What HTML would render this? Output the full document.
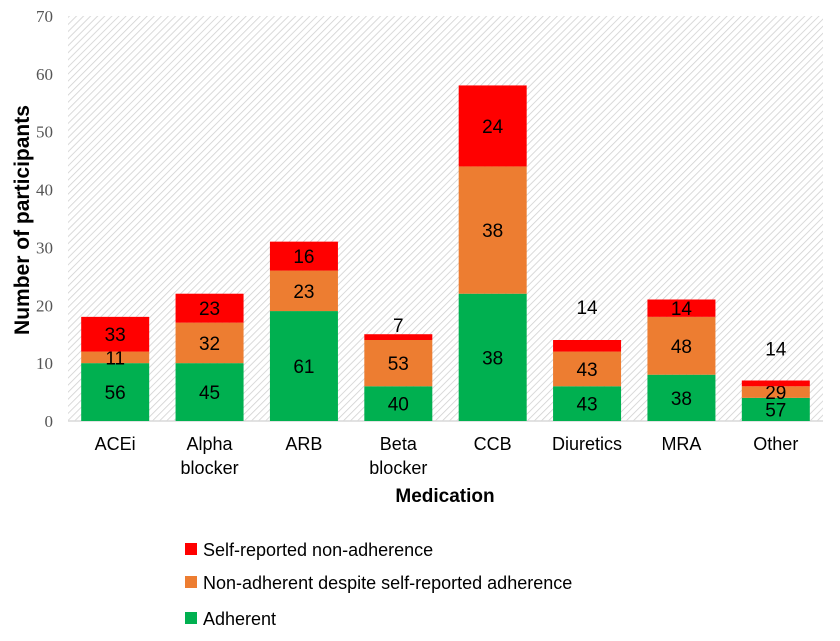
<!DOCTYPE html>
<html><head><meta charset="utf-8"><style>
body{margin:0;background:#fff;}
svg text{font-family:"Liberation Sans",sans-serif;}
</style></head><body>
<svg id="chart" width="840" height="636" xmlns="http://www.w3.org/2000/svg">
<defs>
<pattern id="hatch" patternUnits="userSpaceOnUse" width="5" height="5" patternTransform="rotate(45)">
<rect width="5" height="5" fill="#fff"/>
<line x1="0" y1="0" x2="0" y2="5" stroke="#d0d0d0" stroke-width="1.6"/>
</pattern>
</defs>
<rect x="68" y="16" width="755" height="405" fill="url(#hatch)"/>
<g id="axes"></g>
<g id="bars"></g>
<text transform="translate(29,220) rotate(-90)" text-anchor="middle" font-size="21" font-weight="bold">Number of participants</text>
<text x="445" y="502" text-anchor="middle" font-size="19" font-weight="bold">Medication</text>
<g>
<g><rect x="185" y="543" width="12" height="12" fill="#ff0000"/><text x="203" y="556" font-size="18">Self-reported non-adherence</text></g>
<g><rect x="185" y="576" width="12" height="12" fill="#ed7d31"/><text x="203" y="589" font-size="18">Non-adherent despite self-reported adherence</text></g>
<g><rect x="185" y="612" width="12" height="12" fill="#00b050"/><text x="203" y="625" font-size="18">Adherent</text></g>
</g>
</svg>
<script>
const categories=["ACEi","Alpha|blocker","ARB","Beta|blocker","CCB","Diuretics","MRA","Other"];
const adherent=[10,10,19,6,22,6,8,4];
const nonAdherent=[2,7,7,8,22,6,10,2];
const selfReported=[6,5,5,1,14,2,3,1];
const adherentPct=["56","45","61","40","38","43","38","57"];
const nonAdherentPct=["11","32","23","53","38","43","48","29"];
const selfReportedPct=["33","23","16","7","24","14","14","14"];
const yTicks=[0,10,20,30,40,50,60,70];
const outsideLabelLift=[null,null,null,2,null,26,null,25];
const X0=68,X1=823,Y0=421,Y1=16,YMAX=70;
const y=v=>Y0-(Y0-Y1)*v/YMAX;
const bw=(X1-X0)/categories.length;
const xc=i=>X0+bw*(i+0.5);
const ns="http://www.w3.org/2000/svg";
const axes=document.getElementById('axes'),bars=document.getElementById('bars');
function mk(tag,attrs,parent,txt){const e=document.createElementNS(ns,tag);for(const k in attrs)e.setAttribute(k,attrs[k]);if(txt!==undefined)e.textContent=txt;parent.appendChild(e);return e;}
const base=mk('line',{x1:X0,x2:X1,y1:Y0,y2:Y0,stroke:'#d9d9d9','stroke-width':1.5},axes);


yTicks.forEach(t=>{
 const tl=mk('text',{x:53,y:y(t)+6,'text-anchor':'end','font-size':17,fill:'#555',style:'font-family:"Liberation Serif",serif'},axes,t);
 
 
});
const BW=68;
categories.forEach((c,i)=>{
 const lines=c.split('|');
 lines.forEach((l,j)=>{
  const ct=mk('text',{x:xc(i),y:450+j*24,'text-anchor':'middle','font-size':18},axes,l);
  
  
 });
 const segs=[[adherent[i],'#00b050',adherentPct[i]],[nonAdherent[i],'#ed7d31',nonAdherentPct[i]],[selfReported[i],'#ff0000',selfReportedPct[i]]];
 let acc=0;
 segs.forEach((s,k)=>{
  const top=y(acc+s[0]),bot=y(acc);
  const r=mk('rect',{x:xc(i)-BW/2,y:top,width:BW,height:bot-top,fill:s[1]},bars);
  
  
  let ly=(top+bot)/2+7;
  if(k===2&&outsideLabelLift[i]!==null) ly=top-outsideLabelLift[i];
  const lt=mk('text',{x:xc(i),y:ly,'text-anchor':'middle','font-size':19},bars,s[2]);
  
  
  acc+=s[0];
 });
});
</script>
</body></html>
